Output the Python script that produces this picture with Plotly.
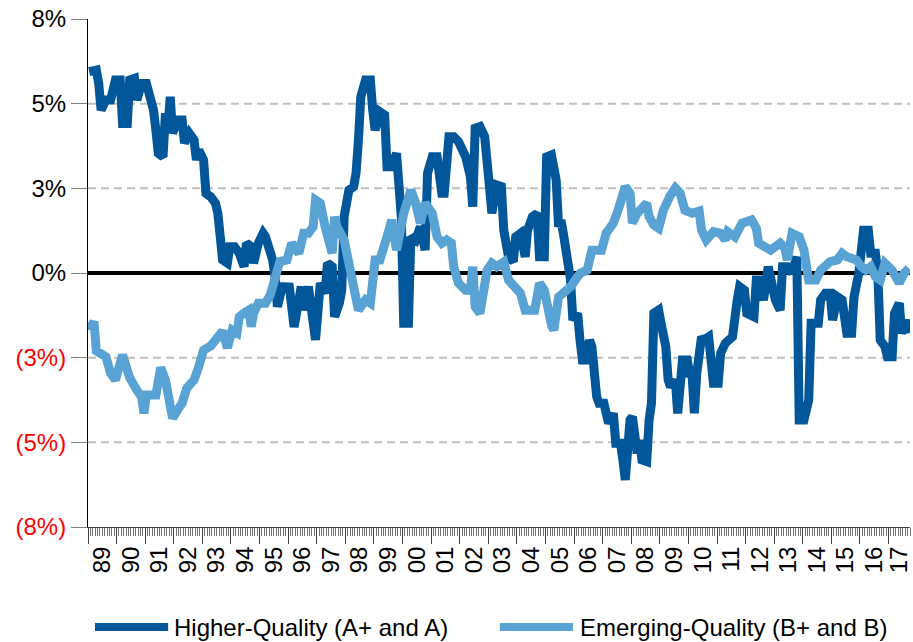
import plotly.graph_objects as go

# ---------------- data (month index 0 = Jan 1989) ----------------
hq_month = [0, 3, 4, 5, 7, 9, 11, 13, 14, 16, 17, 19, 20, 22, 24, 27, 28, 29, 31, 32, 33, 34, 35, 37, 39, 40,
            42, 44, 45, 46, 48, 49, 51, 53, 54, 55, 56, 58, 59, 61, 63, 65, 66, 68, 69, 71, 73, 74, 76, 77,
            78, 79, 81, 83, 84, 86, 89, 90, 92, 95, 97, 99, 100, 102, 103, 105, 106, 107, 109, 111, 112, 113,
            114, 116, 118, 119, 120, 122, 124, 125, 127, 129, 130, 131, 132, 134, 135, 137, 139, 141, 142,
            143, 144, 146, 148, 149, 151, 153, 155, 158, 160, 161, 162, 164, 166, 168, 169, 171, 173, 174,
            176, 178, 179, 181, 183, 184, 186, 188, 189, 191, 192, 194, 196, 197, 198, 199, 201, 202, 203,
            205, 206, 207, 209, 210, 211, 212, 213, 214, 216, 218, 220, 221, 223, 224, 225, 227, 228, 230,
            231, 232, 234, 235, 236, 237, 239, 240, 242, 243, 244, 246, 247, 249, 251, 252, 253, 254, 255,
            257, 258, 260, 262, 264, 265, 267, 270, 272, 273, 275, 276, 279, 280, 281, 283, 285, 286, 288,
            290, 291, 293, 295, 297, 298, 300, 301, 302, 303, 306, 307, 309, 311, 312, 314, 316, 318, 320,
            321, 323, 325, 327, 328, 330, 331, 332, 334, 335, 337, 338, 340, 341, 343, 344]
hq_value = [6.34, 6.39, 5.97, 5.13, 5.45, 5.45, 6.08, 6.08, 4.71, 4.71, 6.08, 6.13, 5.45, 5.97, 5.97, 5.13,
            4.50, 3.77, 3.66, 5.03, 4.50, 5.55, 4.40, 4.82, 4.82, 4.09, 4.40, 4.19, 3.56, 3.87, 3.56, 2.51,
            2.40, 2.20, 1.88, 1.04, 0.41, 0.31, 0.83, 0.83, 0.62, 0.20, 0.94, 0.83, 0.31, 0.94, 1.25, 1.14,
            0.72, 0.41, -0.12, -1.06, -0.43, -0.48, -0.44, -1.70, -0.43, -1.17, -0.43, -2.11, -0.32, -0.64,
            0.31, 0.20, -1.38, -0.95, -0.54, 1.77, 2.61, 2.72, 3.14, 4.19, 5.55, 6.08, 6.08, 5.13, 4.50,
            5.08, 4.98, 3.35, 3.35, 3.77, 2.40, 1.77, -1.58, -1.58, 1.14, 1.04, 1.46, 0.72, 3.14, 3.35,
            3.66, 3.66, 2.51, 2.51, 4.29, 4.29, 4.14, 3.66, 3.03, 2.09, 4.56, 4.61, 4.29, 2.72, 1.88, 2.77,
            2.72, 1.35, 0.51, 0.36, 1.14, 1.25, 0.51, 1.35, 1.77, 1.88, 0.51, 0.51, 3.66, 3.72, 2.93, 1.46,
            1.67, 1.25, 0.51, -0.20, -1.48, -1.27, -2.11, -2.74, -2.74, -2.11, -2.32, -3.79, -3.90, -4.10,
            -4.10, -4.73, -4.42, -5.36, -5.36, -5.89, -6.52, -4.63, -4.53, -5.68, -5.26, -5.89, -5.94,
            -4.63, -4.10, -1.27, -1.17, -1.58, -2.32, -3.37, -3.58, -3.37, -4.42, -2.74, -2.74, -3.16,
            -3.16, -4.42, -3.16, -2.01, -2.11, -2.01, -3.47, -3.47, -2.53, -2.21, -2.01, -0.85, -0.43,
            -0.54, -1.27, -1.38, -0.22, -0.22, -0.85, 0.20, -0.22, -0.85, -1.17, 0.20, 0.20, 0.00, 0.51,
            -4.63, -4.63, -4.21, -4.00, -1.58, -1.58, -0.85, -0.64, -0.64, -1.48, -0.75, -0.85, -1.90,
            -1.90, -0.75, -0.01, 1.35, 1.35, 0.62, 0.62, -0.01, -2.11, -2.32, -2.64, -2.64, -1.27, -0.95,
            -1.90, -1.48, -1.90]

eq_month = [0, 2, 3, 7, 9, 11, 14, 17, 20, 22, 23, 24, 28, 30, 32, 34, 35, 38, 39, 41, 44, 46, 48, 51, 54,
            56, 58, 60, 62, 63, 65, 67, 68, 69, 71, 74, 76, 78, 80, 83, 85, 88, 90, 92, 94, 95, 97, 99, 102,
            103, 104, 107, 110, 112, 113, 116, 118, 120, 122, 125, 127, 129, 131, 132, 135, 137, 139, 141,
            144, 146, 148, 150, 152, 153, 155, 158, 160, 161, 162, 164, 167, 169, 171, 174, 176, 181, 183,
            187, 189, 191, 194, 195, 197, 202, 206, 209, 211, 215, 217, 220, 222, 224, 225, 227, 228, 230,
            232, 234, 235, 237, 239, 241, 244, 246, 248, 250, 253, 256, 257, 259, 262, 265, 267, 268, 271,
            274, 278, 280, 281, 286, 290, 292, 293, 295, 298, 300, 302, 305, 307, 309, 311, 314, 316, 318,
            322, 324, 326, 328, 330, 332, 334, 337, 340, 342, 344]
eq_value = [-1.80, -1.53, -2.45, -2.64, -3.16, -3.37, -2.58, -3.30, -3.69, -3.90, -4.42, -3.84, -3.84,
            -2.98, -3.37, -4.16, -4.57, -4.21, -4.10, -3.62, -3.37, -2.95, -2.43, -2.30, -2.05, -1.83,
            -2.36, -1.80, -1.89, -1.38, -1.26, -1.17, -1.69, -1.27, -0.95, -0.95, -0.69, -0.01, 0.36, 0.41,
            0.94, 0.62, 1.25, 1.25, 1.46, 2.30, 2.20, 1.46, 0.62, 1.77, 1.46, 1.04, -0.01, -0.85, -1.17,
            -0.85, -0.95, 0.41, 0.41, 1.14, 1.67, 0.72, 1.46, 1.88, 2.61, 2.20, 1.57, 2.20, 1.88, 1.14,
            0.94, 1.04, 0.94, 0.20, -0.32, -0.54, -0.54, 0.20, -1.06, -1.27, 0.09, 0.31, 0.20, 0.35, -0.22,
            -0.64, -1.17, -1.17, -0.32, -0.54, -1.64, -1.80, -0.76, -0.44, -0.01, 0.09, 0.72, 0.72, 1.26,
            1.57, 1.98, 2.39, 2.72, 2.51, 1.57, 1.88, 2.04, 2.20, 1.77, 1.51, 1.41, 1.98, 2.46, 2.68, 2.52,
            1.98, 1.88, 1.95, 1.35, 1.04, 1.30, 1.25, 1.04, 1.30, 1.14, 1.57, 1.67, 1.41, 0.94, 0.72, 0.94,
            0.78, 0.41, 1.25, 1.14, 0.72, -0.22, -0.22, 0.09, 0.20, 0.36, 0.41, 0.62, 0.51, 0.41, 0.20,
            0.09, 0.20, -0.12, -0.22, 0.31, 0.09, -0.32, -0.01, 0.15]

series_names = ["Higher-Quality (A+ and A)", "Emerging-Quality (B+ and B)"]

year_labels = ["89", "90", "91", "92", "93", "94", "95", "96", "97", "98", "99", "00", "01", "02", "03",
               "04", "05", "06", "07", "08", "09", "10", "11", "12", "13", "14", "15", "16", "17"]
n_months = 345

y_tick_values = [-8, -16 / 3, -8 / 3, 0, 8 / 3, 16 / 3, 8]
y_tick_labels = ["(8%)", "(5%)", "(3%)", "0%", "3%", "5%", "8%"]

# ---------------- styling ----------------
DARK = "#02569a"
LIGHT = "#59a2d4"
FONT = "Liberation Sans, Arial, sans-serif"
LW = 9

fig = go.Figure()
fig.add_trace(go.Scatter(x=hq_month, y=hq_value, mode="lines", name=series_names[0],
                         line=dict(color=DARK, width=LW), showlegend=False))
fig.add_trace(go.Scatter(x=eq_month, y=eq_value, mode="lines", name=series_names[1],
                         line=dict(color=LIGHT, width=LW), showlegend=False))

# year boundaries (major ticks) and label positions (middle of each year)
year_starts = [12 * i - 0.5 for i in range(len(year_labels))]
label_pos = []
for i in range(len(year_labels)):
    start = 12 * i - 0.5
    end = min(start + 12, n_months - 0.5)
    label_pos.append((start + end) / 2)

# invisible trace so the label axis is drawn
fig.add_trace(go.Scatter(x=label_pos, y=[None] * len(label_pos), xaxis="x2", mode="lines",
                         showlegend=False, hoverinfo="skip"))

ytext = []
for v, t in zip(y_tick_values, y_tick_labels):
    ytext.append(f'<span style="color:#ff0000">{t}</span>' if v < 0 else t)

# dashed gridlines (not at the extremes)
for v in y_tick_values:
    if v != 0 and abs(v) < 8:
        fig.add_shape(type="line", xref="paper", x0=0, x1=1, yref="y", y0=v, y1=v,
                      line=dict(color="#c0c0c0", width=2, dash="8px,5px"), layer="below")

# custom legend
legend_items = [(series_names[0], DARK, 0.0085, 0.0975, 0.102),
                (series_names[1], LIGHT, 0.501, 0.590, 0.596)]
for name, col, x0, x1, xt in legend_items:
    fig.add_shape(type="line", xref="paper", yref="paper", x0=x0, x1=x1, y0=-0.197, y1=-0.197,
                  line=dict(color=col, width=8))
    fig.add_annotation(text=name, xref="paper", yref="paper", x=xt, y=-0.197,
                       xanchor="left", yanchor="middle", showarrow=False,
                       font=dict(size=24, color="#000000", family=FONT))

fig.update_layout(
    width=913, height=642,
    margin=dict(l=88, r=3, t=19, b=115, autoexpand=False),
    paper_bgcolor="white", plot_bgcolor="white",
    font=dict(family=FONT, size=24, color="#000000"),
    showlegend=False,
    hovermode=False,
    xaxis=dict(range=[-0.5, n_months - 0.5], tickmode="array", tickvals=year_starts,
               showticklabels=False, ticks="outside", ticklen=16, tickcolor="#404040", tickwidth=1,
               showline=True, linecolor="#404040", linewidth=1, showgrid=False, zeroline=False,
               automargin=False,
               minor=dict(ticks="outside", ticklen=8, tick0=-0.5, dtick=1, tickcolor="#707070",
                          tickwidth=1, showgrid=False)),
    xaxis2=dict(matches="x", overlaying="x", anchor="y", side="bottom",
                tickmode="array", tickvals=label_pos, ticktext=year_labels, tickangle=-90,
                ticks="outside", ticklen=9, tickcolor="rgba(0,0,0,0)", showline=False,
                showgrid=False, zeroline=False, automargin=False,
                tickfont=dict(size=24, color="#000000")),
    yaxis=dict(range=[-8, 8], tickmode="array", tickvals=y_tick_values, ticktext=ytext,
               ticks="outside", ticklen=16, tickcolor="#808080", tickwidth=1,
               showline=True, linecolor="#000000", linewidth=1, showgrid=False,
               zeroline=True, zerolinecolor="#000000", zerolinewidth=4, automargin=False,
               tickfont=dict(size=24)),
)

# remove the browser's default body margin so the figure fills the window exactly
fig.write_html("out.html", config={"displayModeBar": False},
               post_script="document.body.style.margin='0';document.body.style.overflow='hidden';")
